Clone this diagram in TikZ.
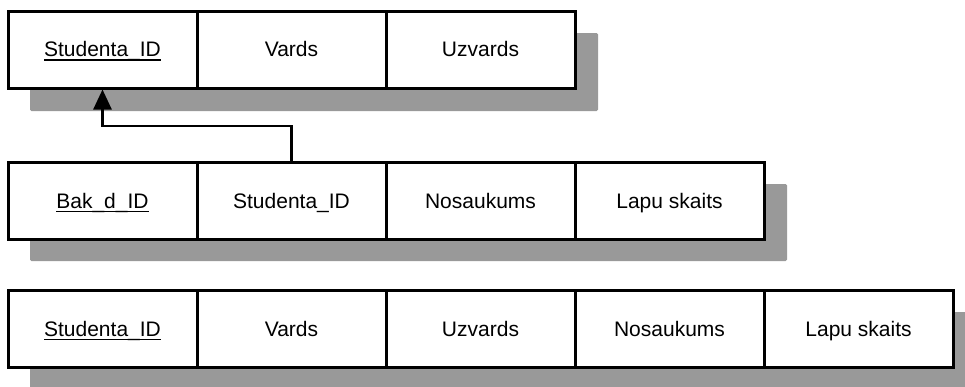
\documentclass[tikz,border=0pt]{standalone}
\usepackage{fontspec}
\setmainfont{Liberation Sans}
\usetikzlibrary{arrows.meta}
\definecolor{shadowgray}{HTML}{999999}
\newcommand\keyul[1]{\setbox0\hbox{#1}\rlap{\rule[-4.2pt]{\wd0}{1.3pt}}\box0}
\tikzset{
  cell/.style={draw=black, line width=3pt, fill=white, minimum width=189pt, minimum height=77pt, inner sep=0pt, text height=14pt, text depth=0pt, font=\fontsize{21}{25}\selectfont},
  shadowbox/.style={fill=shadowgray, rounded corners=1.5pt},
  link/.style={draw=black, line width=2.6pt, -{Triangle[length=20pt,width=18pt]}}
}
\begin{document}
\begin{tikzpicture}[x=1pt,y=-1pt]
\clip (0,0) rectangle (965,386);
\fill[white] (0,0) rectangle (965,386);
% shadows
\fill[shadowbox] (30,33) rectangle (598,111);
\fill[shadowbox] (30,184) rectangle (787,261);
\fill[shadowbox] (30,312) rectangle (980,400);
% row 1
\node[cell] (a1) at (102.5,49.5) {\keyul{Studenta\_ID}};
\node[cell] (a2) at (291.5,49.5) {Vards};
\node[cell] (a3) at (480.5,49.5) {Uzvards};
% row 2
\node[cell] (b1) at (102.5,201) {\keyul{Bak\_d\_ID}};
\node[cell] (b2) at (291.5,201) {Studenta\_ID};
\node[cell] (b3) at (480.5,201) {Nosaukums};
\node[cell] (b4) at (669.5,201) {Lapu skaits};
% row 3
\node[cell] (c1) at (102.5,329) {\keyul{Studenta\_ID}};
\node[cell] (c2) at (291.5,329) {Vards};
\node[cell] (c3) at (480.5,329) {Uzvards};
\node[cell] (c4) at (669.5,329) {Nosaukums};
\node[cell] (c5) at (858.5,329) {Lapu skaits};
% link
\coordinate (bend) at (0,126);
\draw[link] (b2.north) -- (b2.north |- bend) -| (a1.south);
\end{tikzpicture}
\end{document}
